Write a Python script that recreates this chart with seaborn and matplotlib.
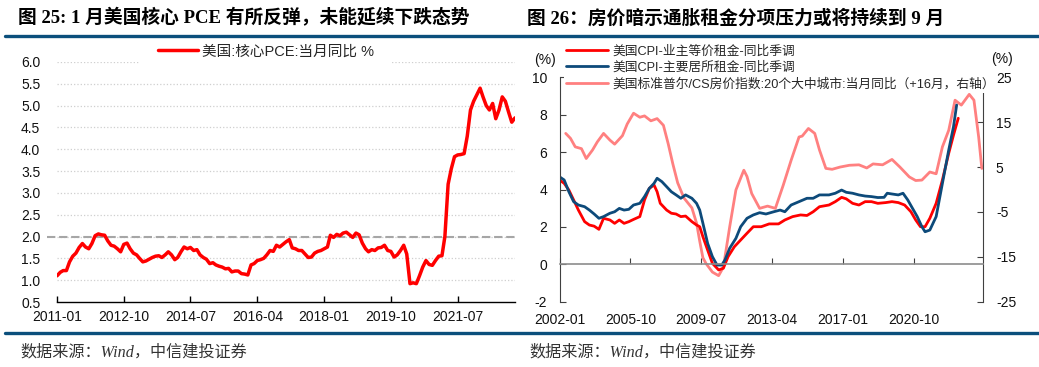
import numpy as np
import pandas as pd
import matplotlib
matplotlib.use('Agg')
import matplotlib.pyplot as plt
import matplotlib.dates as mdates
from matplotlib.lines import Line2D
import seaborn as sns

sns.set_style('white')
plt.rcParams['font.family'] = ['Liberation Sans', 'Noto Sans CJK SC']
plt.rcParams['axes.unicode_minus'] = False

# ---- 图25 数据: 美国核心PCE当月同比 (2011-01 ~ 2023-01, 月度)
pce = [1.10, 1.18, 1.22, 1.22, 1.42, 1.55, 1.62, 1.75, 1.84, 1.76, 1.72, 1.84,
       2.02, 2.06, 2.04, 2.03, 1.90, 1.80, 1.78, 1.72, 1.65, 1.82, 1.85, 1.72,
       1.62, 1.58, 1.50, 1.42, 1.44, 1.48, 1.52, 1.55, 1.56, 1.52, 1.58, 1.65,
       1.58, 1.47, 1.52, 1.65, 1.76, 1.72, 1.75, 1.68, 1.70, 1.58, 1.52, 1.48,
       1.38, 1.40, 1.35, 1.32, 1.30, 1.26, 1.27, 1.19, 1.21, 1.21, 1.15, 1.14,
       1.12, 1.35, 1.38, 1.45, 1.47, 1.50, 1.58, 1.68, 1.66, 1.80, 1.76, 1.82,
       1.88, 1.93, 1.74, 1.72, 1.68, 1.68, 1.60, 1.52, 1.53, 1.62, 1.66, 1.68,
       1.72, 1.76, 2.03, 1.98, 2.05, 2.02, 2.08, 2.10, 2.04, 1.98, 2.08, 2.04,
       1.85, 1.72, 1.65, 1.70, 1.68, 1.74, 1.75, 1.80, 1.68, 1.66, 1.53, 1.58,
       1.68, 1.80, 1.60, 0.92, 0.94, 0.92, 1.10, 1.30, 1.45, 1.36, 1.34, 1.45,
       1.55, 1.56, 2.00, 3.20, 3.55, 3.83, 3.87, 3.88, 3.90, 4.30, 4.90, 5.10,
       5.25, 5.40, 5.20, 5.00, 4.90, 5.05, 4.70, 4.90, 5.20, 5.10, 4.85, 4.62,
       4.72]
pce_dates = pd.date_range('2011-01-01', periods=len(pce), freq='MS')
pce_ticks = ['2011-01', '2012-10', '2014-07', '2016-04', '2018-01', '2019-10', '2021-07']
pce_yticks = [0.5, 1.0, 1.5, 2.0, 2.5, 3.0, 3.5, 4.0, 4.5, 5.0, 5.5, 6.0]

# ---- 图26 数据
oer_dates = ['2002-01', '2002-04', '2002-07', '2002-10', '2003-01', '2003-05', '2003-08', '2003-11',
             '2004-02', '2004-05', '2004-09', '2004-12', '2005-03', '2005-06', '2005-09', '2005-12',
             '2006-04', '2006-07', '2006-10', '2007-01', '2007-03', '2007-05', '2007-09', '2007-12',
             '2008-03', '2008-06', '2008-09', '2009-01', '2009-04', '2009-06', '2009-08', '2009-11',
             '2010-02', '2010-06', '2010-09', '2010-12', '2011-04', '2011-08', '2011-12', '2012-04',
             '2012-09', '2013-02', '2013-08', '2013-12', '2014-05', '2014-10', '2015-02', '2015-06',
             '2015-10', '2016-04', '2016-08', '2016-12', '2017-03', '2017-07', '2017-11', '2018-03',
             '2018-07', '2018-11', '2019-04', '2019-08', '2019-12', '2020-04', '2020-08', '2020-11',
             '2021-02', '2021-05', '2021-08', '2021-12', '2022-04', '2022-08', '2022-11', '2023-02']
oer = [4.51, 4.33, 3.97, 3.44, 2.90, 2.28, 2.10, 2.04,
       1.87, 2.46, 2.37, 2.19, 2.37, 2.19, 2.28, 2.40,
       2.55, 3.44, 4.06, 4.24, 3.88, 3.26, 2.90, 2.73,
       2.69, 2.55, 2.58, 2.28, 2.10, 2.01, 1.48, 0.76,
       0.05, -0.30, -0.21, 0.41, 0.94, 1.30, 1.66, 2.01,
       2.01, 2.16, 2.16, 2.37, 2.55, 2.64, 2.61, 2.81,
       3.08, 3.17, 3.35, 3.58, 3.50, 3.26, 3.17, 3.35,
       3.35, 3.26, 3.30, 3.35, 3.30, 3.17, 2.81, 2.37,
       2.01, 2.01, 2.46, 3.26, 4.51, 5.94, 6.91, 7.81]

rent_dates = ['2002-01', '2002-04', '2002-07', '2002-10', '2003-01', '2003-05', '2003-08', '2003-11',
              '2004-02', '2004-05', '2004-09', '2004-12', '2005-03', '2005-06', '2005-09', '2005-12',
              '2006-04', '2006-07', '2006-10', '2007-01', '2007-03', '2007-06', '2007-09', '2007-12',
              '2008-03', '2008-06', '2008-09', '2009-01', '2009-04', '2009-06', '2009-08', '2009-11',
              '2010-02', '2010-05', '2010-08', '2010-10', '2011-01', '2011-05', '2011-08', '2011-12',
              '2012-04', '2012-08', '2012-12', '2013-05', '2013-09', '2013-12', '2014-04', '2014-09',
              '2015-02', '2015-06', '2015-10', '2016-04', '2016-08', '2016-12', '2017-03', '2017-07',
              '2017-11', '2018-03', '2018-07', '2018-11', '2019-03', '2019-05', '2019-08', '2019-12',
              '2020-03', '2020-06', '2020-09', '2020-12', '2021-03', '2021-05', '2021-08', '2021-12',
              '2022-04', '2022-08', '2022-11', '2023-01']
rent = [4.68, 4.51, 3.88, 3.35, 3.17, 3.08, 2.90, 2.69,
        2.46, 2.55, 2.73, 2.81, 2.99, 2.90, 2.94, 3.17,
        3.26, 3.62, 4.06, 4.33, 4.60, 4.42, 4.15, 3.88,
        3.71, 3.53, 3.71, 3.53, 3.26, 2.90, 2.20, 1.12,
        0.41, -0.04, -0.04, 0.23, 0.86, 1.39, 2.01, 2.46,
        2.64, 2.76, 2.69, 2.81, 2.90, 2.81, 3.17, 3.35,
        3.53, 3.53, 3.71, 3.71, 3.80, 3.97, 3.85, 3.80,
        3.71, 3.65, 3.62, 3.57, 3.58, 3.80, 3.76, 3.71,
        3.80, 3.44, 2.99, 2.55, 2.01, 1.74, 1.83, 2.55,
        4.33, 6.11, 7.36, 8.52]

cs_dates = ['2002-05', '2002-08', '2002-11', '2003-03', '2003-06', '2003-10', '2004-01', '2004-05',
            '2004-09', '2004-12', '2005-05', '2005-08', '2005-12', '2006-04', '2006-07', '2006-11',
            '2007-03', '2007-07', '2007-10', '2008-01', '2008-04', '2008-08', '2009-01', '2009-04',
            '2009-06', '2009-08', '2009-10', '2010-02', '2010-06', '2010-09', '2011-01', '2011-05',
            '2011-10', '2011-12', '2012-03', '2012-08', '2013-01', '2013-06', '2013-11', '2014-04',
            '2014-09', '2014-11', '2015-03', '2015-07', '2015-10', '2016-02', '2016-06', '2016-11',
            '2017-05', '2017-11', '2018-04', '2018-08', '2019-02', '2019-08', '2020-01', '2020-07',
            '2020-11', '2021-03', '2021-08', '2021-12', '2022-04', '2022-08', '2022-12', '2023-04',
            '2023-09', '2023-12', '2024-03', '2024-05']
cs = [12.5, 11.4, 9.5, 9.1, 6.9, 8.8, 10.6, 12.5,
      11.0, 10.1, 12.0, 14.6, 17.0, 16.1, 16.4, 15.3,
      15.8, 14.3, 10.2, 5.6, 1.5, -1.9, -4.1, -7.5,
      -11.5, -15.2, -16.5, -18.4, -19.2, -17.3, -8.3, -0.1,
      4.3, 2.9, -0.9, -4.2, -3.7, -4.2, 1.0, 6.5,
      11.7, 11.9, 13.6, 12.5, 8.8, 4.7, 4.5, 5.0,
      5.4, 5.5, 4.8, 5.7, 5.5, 6.7, 5.0, 2.8,
      2.0, 2.1, 3.9, 3.5, 9.5, 13.2, 19.9, 18.8,
      21.2, 19.9, 11.7, 4.7]
rent_ticks = ['2002-01', '2005-10', '2009-07', '2013-04', '2017-01', '2020-10']

labels_26 = ['美国CPI-业主等价租金-同比季调', '美国CPI-主要居所租金-同比季调',
             '美国标准普尔/CS房价指数:20个大中城市:当月同比（+16月，右轴）']

W, H = 1039, 367
fig = plt.figure(figsize=(W / 100, H / 100), dpi=100)

def fx(px):
    return px / W

def fy(py):
    return 1 - py / H

title_font = ['Liberation Serif', 'Noto Sans CJK SC']
txt = '#111111'

# ================= 左图 =================
ax1 = fig.add_axes([fx(57), fy(302), fx(515) - fx(57), fy(62) - fy(302)])
sns.lineplot(x=pce_dates, y=pce, ax=ax1, color='#ff0000', lw=2.5,
             label='美国:核心PCE:当月同比 %', zorder=3)
ax1.set_xlim(pce_dates[0], pce_dates[-1])
ax1.set_ylim(0.5, 6.0)
ax1.set_yticks(pce_yticks)
ax1.set_yticklabels([f'{v:.1f}' for v in pce_yticks])
ax1.set_xticks(pd.to_datetime(pce_ticks))
ax1.xaxis.set_major_formatter(mdates.DateFormatter('%Y-%m'))
for y in pce_yticks[1:]:
    ax1.axhline(y, color='#cfcfcf', ls=':', lw=0.9, zorder=1)
ax1.axhline(2.0, xmin=-0.022, xmax=1, color='#a6a6a6', ls=(0, (4, 1.8)), lw=1.5,
            clip_on=False, zorder=2)
for s in ['left', 'right', 'top']:
    ax1.spines[s].set_visible(False)
ax1.spines['bottom'].set_color('#000000')
ax1.spines['bottom'].set_linewidth(1.0)
ax1.tick_params(axis='y', length=0, pad=12, labelsize=10, labelcolor=txt)
ax1.tick_params(axis='x', direction='in', length=4, width=1, color='#000000',
                pad=6, labelsize=10, labelcolor=txt, bottom=True)
ax1.set_xlabel('')
ax1.set_ylabel('')
leg1 = ax1.legend(loc='upper center', bbox_to_anchor=(0.456, 1.146), fontsize=10.5,
                  frameon=True, facecolor='white', edgecolor='none', framealpha=1,
                  handlelength=2.75, handletextpad=0.3, borderpad=1.2, borderaxespad=0)
leg1.get_frame().set_boxstyle('square', pad=0)

# ================= 右图 =================
ax = fig.add_axes([fx(559.5), fy(301.7), fx(982.7) - fx(559.5), fy(77.3) - fy(301.7)])
ax2 = ax.twinx()
sns.lineplot(x=pd.to_datetime(cs_dates), y=cs, ax=ax2, color='#ff8080', lw=2.0,
             label=labels_26[2], legend=False)
sns.lineplot(x=pd.to_datetime(oer_dates), y=oer, ax=ax, color='#ff0000', lw=2.0,
             label=labels_26[0], legend=False)
sns.lineplot(x=pd.to_datetime(rent_dates), y=rent, ax=ax, color='#0d4a7a', lw=2.0,
             label=labels_26[1], legend=False)
ax.set_zorder(ax2.get_zorder() + 1)
ax.patch.set_visible(False)

ax.set_xlim(pd.Timestamp('2002-01-01'), pd.Timestamp('2024-05-18'))
ax.set_ylim(-2, 10)
ax.set_yticks([-2, 0, 2, 4, 6, 8, 10])
ax2.set_ylim(-25, 25)
ax2.set_yticks([-25, -15, -5, 5, 15, 25])
ax.set_xticks(pd.to_datetime(rent_ticks))
ax.xaxis.set_major_formatter(mdates.DateFormatter('%Y-%m'))

ax.spines['top'].set_visible(False)
ax.spines['right'].set_visible(False)
ax.spines['left'].set_color('#404040')
ax.spines['bottom'].set_position(('data', 0))
ax.spines['bottom'].set_color('#8c8c8c')
ax.spines['bottom'].set_linewidth(1.2)
for s in ['top', 'bottom', 'left']:
    ax2.spines[s].set_visible(False)
ax2.spines['right'].set_color('#404040')

ax.tick_params(axis='x', direction='in', length=4, color='#404040', pad=35,
               labelsize=10, labelcolor=txt, bottom=True)
ax.tick_params(axis='y', direction='in', length=4, color='#404040', pad=9,
               labelsize=10, labelcolor=txt, left=True)
ax2.tick_params(axis='y', direction='in', length=4, color='#404040', pad=9.5,
                labelsize=10, labelcolor=txt, right=True)
for a in (ax, ax2):
    a.set_xlabel('')
    a.set_ylabel('')

h1, l1 = ax.get_legend_handles_labels()
h2, l2 = ax2.get_legend_handles_labels()
leg2 = ax.legend(h1 + h2, l1 + l2, loc='upper left', bbox_to_anchor=(0.0095, 1.155),
                 fontsize=9.2, frameon=True, facecolor='white', edgecolor='none',
                 framealpha=1, handlelength=3.3, handletextpad=0.3, borderpad=0.2,
                 labelspacing=0.32, borderaxespad=0)

fig.text(fx(545), fy(60), '(%)', ha='center', va='center', fontsize=10, color=txt)
fig.text(fx(1001.5), fy(59), '(%)', ha='center', va='center', fontsize=10, color=txt)

# ================= 标题、分隔线、来源 =================
fig.text(fx(18), fy(18), '图 25: 1 月美国核心 PCE 有所反弹，未能延续下跌态势',
         ha='left', va='center', fontsize=13.5, fontweight='bold', family=title_font, color='#000000')
fig.text(fx(527), fy(18), '图 26：房价暗示通胀租金分项压力或将持续到 9 月',
         ha='left', va='center', fontsize=13.5, fontweight='bold', family=title_font, color='#000000')

blue = '#0b4f7c'
fig.add_artist(Line2D([fx(5), 1], [fy(36), fy(36)], color=blue, lw=2.4))
fig.add_artist(Line2D([fx(5), 1], [fy(333), fy(333)], color=blue, lw=2.4))

src = '数据来源：Wind，中信建投证券'
fig.text(fx(20), fy(352), src, ha='left', va='center', fontsize=11.6, style='italic',
         family=title_font, color='#333333')
fig.text(fx(529), fy(352), src, ha='left', va='center', fontsize=11.6, style='italic',
         family=title_font, color='#333333')

fig.savefig('out.png', dpi=100)
